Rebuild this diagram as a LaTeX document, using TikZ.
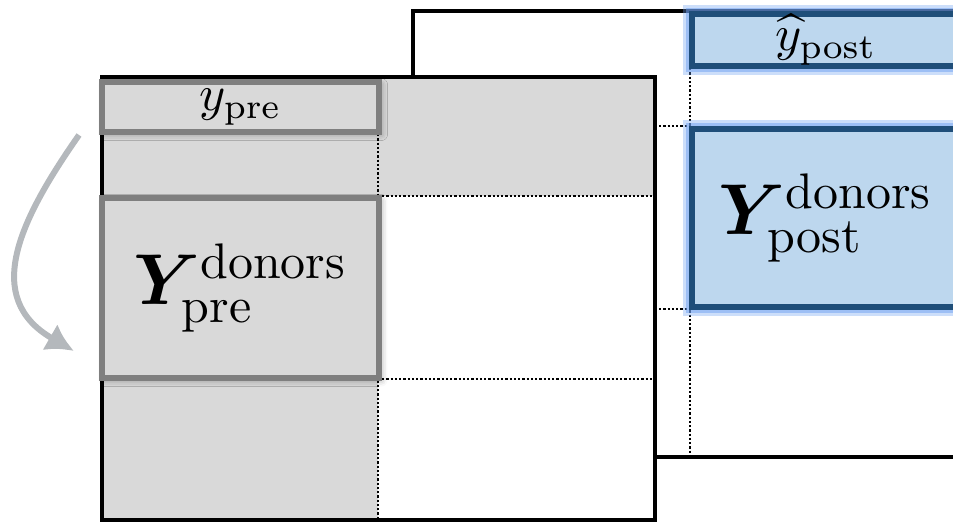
\documentclass[tikz,border=0pt]{standalone}
\usepackage{bm}
\usetikzlibrary{arrows.meta,shadows.blur}
\definecolor{cellgray}{RGB}{217,217,217}
\definecolor{boxgray}{RGB}{127,127,127}
\definecolor{postblue}{RGB}{189,215,238}
\definecolor{postedge}{RGB}{31,78,121}
\definecolor{glowblue}{RGB}{110,160,240}
\definecolor{arrowgray}{RGB}{180,184,188}

\begin{document}
\begin{tikzpicture}[x=0.2pt,y=-0.2pt]
  \tikzstyle{mat}=[draw=black,line width=0.95pt]
  \tikzstyle{grid}=[line width=0.5pt,dash pattern=on 0.45pt off 0.4pt]
  \tikzstyle{pre}=[draw=boxgray,line width=1.2pt,fill=cellgray,inner sep=0pt,
    blur shadow={shadow xshift=0.5pt,shadow yshift=-0.5pt,shadow blur radius=1.2pt,shadow opacity=35}]
  \tikzstyle{post}=[draw=postedge,line width=1.1pt,fill=postblue,inner sep=0pt,
    preaction={draw=glowblue,line width=3.6pt,opacity=0.35},
    preaction={draw=glowblue,line width=2.4pt,opacity=0.5}]
  \tikzstyle{f}=[-{Latex[length=5.5pt,width=6pt]},arrowgray,line width=1.2pt]

  \useasboundingbox (0,0) rectangle (953,524);

  % matrix behind (post period)
  \draw[mat] (413,78) -- (413,11) -- (1000,11);
  \draw[mat] (655,457) -- (1000,457);
  \draw[grid] (690,68) -- (690,455);
  \draw[grid] (655,126) -- (690,126);
  \draw[grid] (655,309) -- (690,309);

  % matrix in front (pre period)
  \fill[cellgray] (102,77) rectangle (378,520);
  \fill[cellgray] (378,77) rectangle (655,196);
  \draw[mat] (102,77) rectangle (655,520);
  \draw[grid] (378,134) -- (378,520);
  \draw[grid] (378,196) -- (655,196);
  \draw[grid] (378,379) -- (655,379);

  \node[pre,minimum width=55.4pt,minimum height=10pt] (ypre) at (240.5,107) {$y_{\mathrm{pre}}$};
  \node[pre,minimum width=55.4pt,minimum height=36pt,font=\Large] (Ypre) at (240.5,288)
    {$\bm{Y}^{\mathrm{donors}}_{\mathrm{pre}}$};

  \node[post,minimum width=53.6pt,minimum height=10.4pt] (yhat) at (826,40) {$\widehat{y}_{\mathrm{post}}$};
  \node[post,minimum width=53.6pt,minimum height=35.6pt,font=\Large] (Ypost) at (826,218)
    {$\bm{Y}^{\mathrm{donors}}_{\mathrm{post}}$};

  \draw[f] ([xshift=-4pt]ypre.south west) to[out=235,in=150,looseness=1.25]
    ([xshift=-5pt,yshift=6pt]Ypre.south west);
\end{tikzpicture}
\end{document}
